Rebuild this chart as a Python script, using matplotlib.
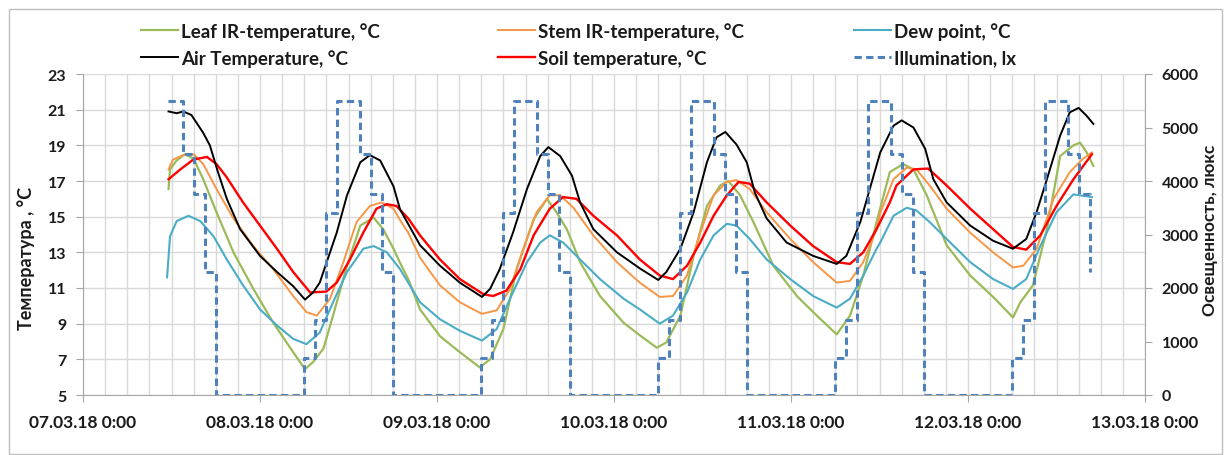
#!/usr/bin/env python3
"""Температура листа/стебля/воздуха/почвы и освещенность, 07.03–13.03.18"""

import matplotlib

matplotlib.use('Agg')
import matplotlib.pyplot as plt
from matplotlib.patches import Rectangle

plt.rcParams['font.family'] = ['Lato', 'DejaVu Sans']
plt.rcParams['font.weight'] = 'bold'
plt.rcParams['axes.labelweight'] = 'bold'

# ── Data (hours from 07.03.18 0:00) ──────────────────────────────────────────
AIR_H = [11.6, 12.7, 13.6, 14.7, 16.3, 17.2, 18.3, 19.5, 21.3, 24.0, 26.3, 28.5,
         30.1, 31.2, 32.1, 33.0, 34.4, 35.8, 37.6, 38.9, 40.3, 42.1, 43.0, 45.7,
         48.4, 51.1, 54.1, 55.2, 56.5, 58.3, 60.2, 62.0, 63.1, 64.7, 66.3, 67.4,
         69.2, 72.4, 75.5, 78.0, 79.1, 81.0, 82.8, 84.6, 85.9, 87.1, 88.6, 90.0,
         91.1, 92.7, 95.4, 99.0, 102.2, 103.5, 105.4, 107.2, 108.1, 109.9, 111.0,
         112.6, 114.2, 115.3, 117.1, 120.3, 123.4, 126.1, 127.9, 129.3, 130.7,
         132.5, 133.8, 135.0, 136.1, 137.0]
AIR_T = [20.9, 20.8, 20.9, 20.7, 19.7, 19.0, 17.5, 16.0, 14.3, 12.8, 11.9, 11.1,
         10.35, 10.75, 11.3, 12.4, 14.1, 16.2, 18.05, 18.45, 18.15, 16.7, 15.4, 13.4,
         12.25, 11.3, 10.5, 10.95, 12.05, 14.1, 16.55, 18.4, 18.9, 18.4, 17.3, 15.8,
         14.3, 13.0, 12.1, 11.45, 11.9, 13.2, 15.25, 18.05, 19.45, 19.75, 19.05, 18.05,
         16.35, 14.9, 13.55, 12.8, 12.35, 12.8, 14.7, 17.3, 18.6, 20.1, 20.4,
         20.0, 18.8, 17.1, 15.8, 14.5, 13.65, 13.2, 13.75, 15.25, 17.1,
         19.55, 20.85, 21.1, 20.65, 20.2]

SOIL_H = [11.6, 13.2, 14.95, 16.8, 18.1, 19.5, 21.7, 24.0, 26.3, 28.5, 30.8, 33.0,
          34.4, 36.2, 38.0, 39.8, 41.2, 42.5, 44.1, 45.7, 48.4, 51.1, 54.3, 55.6,
          57.4, 59.3, 61.1, 63.3, 65.1, 66.9, 69.2, 72.4, 75.5, 78.2, 80.0, 81.9,
          83.7, 85.5, 87.3, 88.9, 90.4, 92.7, 95.9, 99.0, 102.2, 104.0, 105.8, 107.6,
          109.4, 110.3, 112.6, 114.6, 117.1, 120.3, 123.4, 126.1, 127.9, 129.8,
          132.0, 134.3, 136.8]
SOIL_T = [17.1, 17.65, 18.2, 18.35, 17.95, 17.2, 15.8, 14.5, 13.2, 11.9, 10.75, 10.8,
          11.3, 12.6, 14.1, 15.45, 15.7, 15.6, 14.9, 13.95, 12.6, 11.5, 10.65, 10.55,
          10.85, 12.05, 13.95, 15.45, 16.1, 16.0, 15.05, 13.95, 12.6, 11.7, 11.5, 12.25,
          13.55, 15.05, 16.2, 16.95, 16.85, 15.8, 14.5, 13.35, 12.45, 12.35, 13.0, 14.3,
          15.8, 16.75, 17.65, 17.7, 16.75, 15.45, 14.3, 13.3, 13.15, 13.95,
          15.6, 17.1, 18.5]

STEM_H = [11.6, 12.2, 13.6, 15.0, 16.3, 18.1, 20.4, 23.1, 25.8, 28.5, 30.3, 31.7,
          33.5, 35.3, 37.1, 38.9, 40.5, 42.1, 43.0, 44.1, 45.7, 48.4, 51.1, 54.1,
          56.1, 57.9, 59.7, 61.5, 63.3, 64.7, 66.5, 69.2, 72.4, 75.5, 78.2, 80.0,
          81.9, 83.7, 85.5, 87.3, 88.6, 90.4, 92.7, 95.9, 99.0, 102.2, 104.0, 105.8,
          107.6, 108.1, 109.9, 111.7, 113.0, 114.8, 117.1, 120.3, 123.4, 126.1,
          127.5, 129.3, 131.6, 133.8, 135.6, 136.8]
STEM_T = [17.65, 18.2, 18.45, 18.5, 17.95, 16.55, 14.9, 13.35, 12.05, 10.55, 9.65, 9.45,
          10.4, 12.45, 14.7, 15.6, 15.8, 15.45, 14.8, 14.1, 12.7, 11.15, 10.2, 9.55,
          9.75, 10.95, 13.2, 15.25, 16.2, 16.2, 15.5, 13.95, 12.45, 11.3, 10.5, 10.55,
          11.7, 14.1, 16.2, 16.95, 17.05, 16.55, 15.25, 13.75, 12.45, 11.3, 11.4, 12.45,
          14.3, 15.2, 17.1, 17.75, 17.65, 16.75, 15.45, 14.1, 13.0, 12.15,
          12.25, 13.2, 16.0, 17.5, 18.25, 18.6]

LEAF_H = [11.6, 11.8, 12.7, 13.8, 15.0, 16.3, 18.1, 20.4, 23.1, 25.8, 28.5, 30.1,
          31.2, 32.6, 33.9, 35.8, 37.6, 39.4, 40.7, 42.1, 43.0, 44.1, 45.7, 48.4,
          51.1, 53.8, 55.2, 57.0, 58.8, 61.1, 62.9, 64.2, 65.6, 67.4, 70.1, 73.3,
          75.5, 77.8, 79.1, 81.0, 82.8, 84.6, 86.4, 87.5, 89.1, 90.9, 93.6, 96.8,
          99.5, 102.2, 104.0, 105.8, 107.6, 109.4, 111.2, 112.6, 114.4, 117.1,
          120.3, 123.4, 126.1, 127.1, 128.8, 130.7, 132.5, 134.3, 135.2, 136.1, 137.0]
LEAF_T = [16.55, 17.65, 18.15, 18.5, 18.25, 17.1, 15.25, 13.0, 10.95, 9.05, 7.4, 6.45,
          6.85, 7.6, 9.45, 12.25, 14.5, 14.95, 14.3, 13.2, 12.4, 11.5, 9.8, 8.3,
          7.4, 6.55, 7.0, 8.7, 12.05, 14.85, 16.0, 15.25, 14.3, 12.45, 10.55, 9.05,
          8.35, 7.65, 7.95, 9.45, 12.8, 15.6, 16.75, 17.0, 16.2, 14.7, 12.25, 10.55,
          9.45, 8.4, 9.45, 11.7, 14.7, 17.5, 17.95, 17.65, 16.2, 13.4,
          11.7, 10.5, 9.35, 10.2, 11.15, 14.3, 18.4, 19.0, 19.15, 18.6, 17.85]

DEW_H = [11.4, 11.8, 12.7, 14.3, 15.9, 17.7, 19.5, 21.7, 24.0, 26.3, 28.5, 30.3,
         32.1, 33.9, 35.8, 38.0, 39.4, 41.2, 43.0, 44.1, 45.7, 48.4, 51.1, 54.1,
         56.1, 57.9, 60.2, 62.0, 63.3, 65.1, 67.4, 70.1, 73.3, 75.5, 78.2, 80.0,
         81.9, 83.7, 85.5, 87.3, 88.6, 90.4, 92.7, 95.9, 99.0, 102.2, 104.0, 105.8,
         107.6, 108.1, 109.9, 111.7, 113.0, 114.8, 117.1, 120.3, 123.4, 126.1,
         127.9, 129.8, 132.0, 134.3, 136.8]
DEW_T = [11.6, 13.9, 14.75, 15.05, 14.75, 13.9, 12.6, 11.15, 9.8, 8.9, 8.15, 7.85,
         8.5, 10.2, 11.9, 13.2, 13.35, 13.0, 12.05, 11.3, 10.2, 9.25, 8.6, 8.05,
         8.7, 10.4, 12.45, 13.55, 13.95, 13.55, 12.6, 11.5, 10.4, 9.8, 9.0, 9.45,
         10.75, 12.6, 13.95, 14.6, 14.5, 13.75, 12.6, 11.5, 10.55, 9.9, 10.4, 11.7,
         13.2, 13.55, 15.05, 15.5, 15.35, 14.7, 13.75, 12.45, 11.5, 10.95,
         11.5, 13.35, 15.25, 16.25, 16.1]

ILLUM_H = [11.5, 13.5, 15.0, 16.5, 18.0,
           30.0, 31.5, 33.0, 34.5, 37.5, 39.0, 40.5, 42.0,
           54.0, 55.5, 57.0, 58.5, 61.5, 63.0, 64.5, 66.0,
           78.0, 79.5, 81.0, 82.5, 85.5, 87.0, 88.5, 90.0,
           102.0, 103.5, 105.0, 106.5, 109.5, 111.0, 112.5, 114.0,
           126.0, 127.5, 129.0, 130.5, 133.5, 135.0, 136.5]
ILLUM_LX = [5500, 4500, 3750, 2300, 0,
            700, 1400, 3400, 5500, 4500, 3750, 2300, 0,
            700, 1400, 3400, 5500, 4500, 3750, 2300, 0,
            700, 1400, 3400, 5500, 4500, 3750, 2300, 0,
            700, 1400, 3400, 5500, 4500, 3750, 2300, 0,
            700, 1400, 3400, 5500, 4500, 3750, 2300]

DAY_LABELS = ['07.03.18 0:00', '08.03.18 0:00', '09.03.18 0:00', '10.03.18 0:00',
              '11.03.18 0:00', '12.03.18 0:00', '13.03.18 0:00']

# ── Colours ──────────────────────────────────────────────────────────────────
C_LEAF = '#9BBB59'
C_STEM = '#F79646'
C_DEW = '#4BACC6'
C_AIR = '#000000'
C_SOIL = '#FF0000'
C_ILL = '#4F81BD'
GRID = '#D9D9D9'
AXIS = '#A6A6A6'
TXT = '#1A1A1A'

# ── Canvas ───────────────────────────────────────────────────────────────────
W, H = 1228, 456
fig = plt.figure(figsize=(W / 100, H / 100), dpi=100)
fig.patch.set_facecolor('white')
fig.add_artist(Rectangle((9 / W, 1 - 455 / H), 1213 / W, 445 / H,
                         transform=fig.transFigure, fill=False,
                         edgecolor='#BFBFBF', linewidth=1.0))

L, R, T, B = 83, 1145, 75, 396
ax = fig.add_axes([L / W, 1 - B / H, (R - L) / W, (B - T) / H])
ax2 = ax.twinx()

ax.set_xlim(0, 144)
ax.set_ylim(5, 23)
ax2.set_ylim(0, 6000)

# grid
ax.set_yticks(range(5, 24, 2))
ax.set_xticks(range(0, 145, 24))
ax.set_xticks(range(0, 145, 3), minor=True)
ax.grid(True, which='major', axis='y', color=GRID, linewidth=1.0)
ax.grid(True, which='both', axis='x', color=GRID, linewidth=1.0)
ax.set_axisbelow(True)
ax.set_xticklabels(DAY_LABELS)
ax2.set_yticks(range(0, 6001, 1000))

for a in (ax, ax2):
    a.spines['top'].set_visible(False)
    for s in ('left', 'right', 'bottom'):
        a.spines[s].set_color(AXIS)
ax.spines['right'].set_visible(False)
ax2.spines['left'].set_visible(False)
ax2.spines['bottom'].set_visible(False)

ax.tick_params(axis='y', which='major', color=AXIS, length=5, labelsize=11.5,
               labelcolor=TXT, pad=7)
ax.tick_params(axis='x', which='minor', length=0)
ax.tick_params(axis='x', which='major', color=AXIS, length=5, labelsize=12.5,
               labelcolor=TXT, pad=9)
ax2.tick_params(axis='y', color=AXIS, length=5, labelsize=11.5, labelcolor=TXT, pad=7)

# ── Series ───────────────────────────────────────────────────────────────────
l_leaf, = ax.plot(LEAF_H, LEAF_T, color=C_LEAF, lw=1.6, label='Leaf IR-temperature, °C')
l_stem, = ax.plot(STEM_H, STEM_T, color=C_STEM, lw=1.4, label='Stem IR-temperature, °C')
l_dew, = ax.plot(DEW_H, DEW_T, color=C_DEW, lw=1.5, label='Dew point, °C')
l_soil, = ax.plot(SOIL_H, SOIL_T, color=C_SOIL, lw=1.7, label='Soil temperature, °C')
l_air, = ax.plot(AIR_H, AIR_T, color=C_AIR, lw=1.4, label='Air Temperature, °C')
l_ill, = ax2.plot(ILLUM_H, ILLUM_LX, color=C_ILL, lw=2.2, drawstyle='steps-post',
                  dashes=(2.4, 1.4), label='Illumination, lx')

# ── Axis labels ──────────────────────────────────────────────────────────────
ax.set_ylabel('Температура , °C', fontsize=13, color=TXT)
ax.yaxis.set_label_coords(-0.045, 0.43)
ax2.set_ylabel('Освещенность, люкс', fontsize=12.5, color=TXT)
ax2.yaxis.set_label_coords(1.054, 0.515)

# ── Legend (three columns, two rows) ─────────────────────────────────────────
for x0, hs in [(141, (l_leaf, l_air)), (498, (l_stem, l_soil)), (854, (l_dew, l_ill))]:
    fig.legend(handles=list(hs), loc='upper left',
               bbox_to_anchor=(x0 / W, 1 - 23 / H), frameon=False,
               borderpad=0, borderaxespad=0, handlelength=1.95,
               handletextpad=0.2, labelspacing=0.5,
               prop={'size': 13.5, 'weight': 'bold'}, labelcolor=TXT)

plt.savefig('out.png', dpi=100, facecolor=fig.get_facecolor())
plt.close()
